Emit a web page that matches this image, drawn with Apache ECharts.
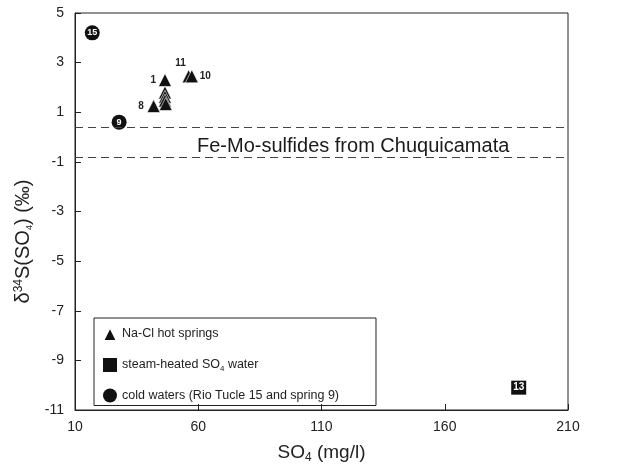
<!DOCTYPE html>
<html>
<head>
<meta charset="utf-8">
<script src="https://cdn.jsdelivr.net/npm/echarts@6/dist/echarts.min.js"></script>
<style>
  html, body { margin: 0; padding: 0; background: #fff; }
  #chart { width: 620px; height: 469px; }
</style>
</head>
<body>
<div id="chart"></div>
<script>
// Na-Cl hot springs
const naclX = [46.5, 46.5, 46.5, 46.5, 46.8, 41.9, 56.1, 57.4]
const naclY = [2.3, 1.8, 1.62, 1.47, 1.33, 1.25, 2.45, 2.45]
const naclLabels = ['1', '', '', '', '', '8', '11', '10']
// steam-heated SO4 water
const steamX = [190]
const steamY = [-10.1]
const steamLabels = ['13']
// cold waters
const coldX = [17, 27.9]
const coldY = [4.2, 0.6]
const coldLabels = ['15', '9']
// Fe-Mo-sulfides band
const sulfideBand = [0.4, -0.8]
const xTicks = [10, 210, 50]
const yTicks = [-11, 5, 2]

const font = 'Liberation Sans, Arial, sans-serif'

// label placement for triangle labels
const triLabelPos = {
  '1': { position: 'left', distance: 2 },
  '8': { position: 'left', distance: 3 },
  '11': { position: 'top', offset: [-8, 0], distance: 1 },
  '10': { position: 'right', distance: 1 }
}

const toPoints = (xs, ys, labels) => xs.map((x, i) => {
  const item = { value: [x, ys[i]], name: labels[i] }
  return item
})

const naclData = toPoints(naclX, naclY, naclLabels).map(d => {
  const cfg = triLabelPos[d.name]
  if (cfg) {
    d.label = Object.assign({ show: true, formatter: d.name }, cfg)
  }
  return d
})

const myChart = echarts.init(document.getElementById('chart'))
myChart.setOption({
  animation: false,
  textStyle: { fontFamily: font },
  grid: {
    left: 75,
    right: 52,
    top: 13,
    bottom: 52,
    show: true,
    borderColor: '#222',
    borderWidth: 1
  },
  legend: {
    orient: 'vertical',
    left: 94,
    top: 318,
    itemWidth: 14,
    itemHeight: 14,
    itemGap: 16,
    padding: [8, 37, 3, 8],
    borderColor: '#222',
    borderWidth: 1,
    data: ['Na-Cl hot springs', 'steam-heated SO4 water', 'cold waters (Rio Tucle 15 and spring 9)'],
    formatter: function (name) {
      if (name === 'steam-heated SO4 water') {
        return '{n|steam-heated SO}{sub|4}{n| water}'
      }
      return '{n|' + name + '}'
    },
    textStyle: {
      color: '#222',
      fontSize: 12.5,
      fontFamily: font,
      rich: {
        n: { fontSize: 12.5, fontFamily: font, color: '#222' },
        sub: { fontSize: 8, fontFamily: font, color: '#222', padding: [7, 0, 0, 0] }
      }
    }
  },
  xAxis: {
    type: 'value',
    min: xTicks[0],
    max: xTicks[1],
    interval: xTicks[2],
    name: '{n|SO}{sub|4}{n| (mg/l)}',
    nameLocation: 'middle',
    nameGap: 32,
    nameTextStyle: {
      rich: {
        n: { fontSize: 19, fontFamily: font, color: '#222' },
        sub: { fontSize: 12, fontFamily: font, color: '#222', padding: [10, 0, 0, 0] }
      }
    },
    axisLine: { show: true, onZero: false, lineStyle: { color: '#222', width: 1 } },
    axisTick: { show: true, inside: true, length: 6, lineStyle: { color: '#222' } },
    axisLabel: { color: '#222', fontSize: 14, margin: 10, fontFamily: font },
    splitLine: { show: false }
  },
  yAxis: {
    type: 'value',
    min: yTicks[0],
    max: yTicks[1],
    interval: yTicks[2],
    name: '{n|δ}{sup|34}{n|S(SO}{sub|4}{n|) (‰)}',
    nameLocation: 'middle',
    nameRotate: 90,
    nameGap: 31,
    nameTextStyle: {
      padding: [0, 60, 0, 0],
      rich: {
        n: { fontSize: 20, fontFamily: font, color: '#222' },
        sup: { fontSize: 12, fontFamily: font, color: '#222', padding: [0, 0, 10, 0] },
        sub: { fontSize: 9, fontFamily: font, color: '#222', padding: [11, 0, 0, 0] }
      }
    },
    axisLine: { show: true, onZero: false, lineStyle: { color: '#222', width: 1 } },
    axisTick: { show: true, inside: true, length: 6, lineStyle: { color: '#222' } },
    axisLabel: { color: '#222', fontSize: 14, margin: 11, fontFamily: font },
    splitLine: { show: false }
  },
  graphic: [
    {
      type: 'text',
      left: 197,
      top: 136,
      silent: true,
      style: {
        text: 'Fe-Mo-sulfides from Chuquicamata',
        fontSize: 20,
        fontFamily: font,
        fill: '#1a1a1a'
      }
    }
  ],
  series: [
    {
      name: 'Na-Cl hot springs',
      type: 'scatter',
      symbol: 'triangle',
      symbolSize: 13,
      itemStyle: { color: '#111', borderColor: '#fff', borderWidth: 0.6, opacity: 1 },
      label: { show: false, color: '#222', fontSize: 10, fontWeight: 'bold', fontFamily: font },
      data: naclData,
      markLine: {
        silent: true,
        symbol: 'none',
        label: { show: false },
        lineStyle: { color: '#444', type: [8, 5], width: 1.2 },
        data: sulfideBand.map(v => ({ yAxis: v }))
      },
      z: 3
    },
    {
      name: 'steam-heated SO4 water',
      type: 'scatter',
      symbol: 'rect',
      symbolSize: [15, 14],
      itemStyle: { color: '#111', opacity: 1 },
      label: {
        show: true,
        position: 'inside',
        formatter: p => p.name,
        color: '#fff',
        fontSize: 10,
        fontWeight: 'bold',
        fontFamily: font
      },
      data: toPoints(steamX, steamY, steamLabels),
      z: 3
    },
    {
      name: 'cold waters (Rio Tucle 15 and spring 9)',
      type: 'scatter',
      symbol: 'circle',
      symbolSize: 15,
      itemStyle: { color: '#111', opacity: 1 },
      label: {
        show: true,
        position: 'inside',
        formatter: p => p.name,
        color: '#fff',
        fontSize: 9,
        fontWeight: 'bold',
        fontFamily: font
      },
      data: toPoints(coldX, coldY, coldLabels),
      z: 3
    }
  ]
})
</script>
</body>
</html>
